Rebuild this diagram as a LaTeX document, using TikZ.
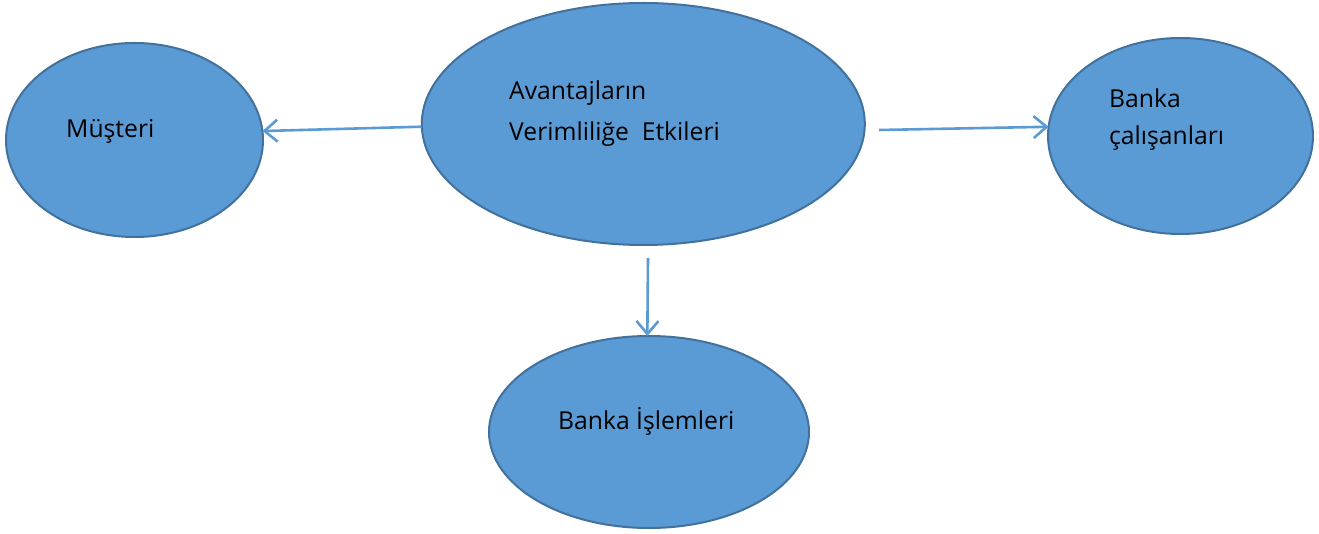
\documentclass[tikz,border=0pt]{standalone}
\usepackage{fontspec}
\setmainfont{Open Sans}
\usetikzlibrary{shapes.geometric,arrows.meta}
\definecolor{ellfill}{HTML}{5B9BD5}
\definecolor{elldraw}{HTML}{41719C}
\definecolor{arrcol}{HTML}{5B9BD5}
\tikzset{
  bubble/.style={ellipse, draw=elldraw, fill=ellfill, line width=2pt, inner sep=0pt, outer sep=0pt},
  lbl/.style={anchor=base west, inner sep=0pt, font=\fontsize{24.7}{28}\selectfont, text=black},
  conn/.style={draw=arrcol, line width=2.6pt, -{Straight Barb[length=13pt,width=22pt,line width=2.6pt]}}
}
\begin{document}
\begin{tikzpicture}[x=1pt,y=1pt]
\useasboundingbox (0,0) rectangle (1319,533);
% ellipses
\node[bubble, minimum width=257pt, minimum height=194pt] (mus) at (134.5,393) {};
\node[bubble, minimum width=443pt, minimum height=242pt] (cen) at (643.3,409) {};
\node[bubble, minimum width=265pt, minimum height=196pt] (cal) at (1180.5,397) {};
\node[bubble, minimum width=320pt, minimum height=192pt] (isl) at (649,101) {};
% texts
\node[lbl] (tmus) at (66,395) {Müşteri};
\node[lbl] (tcenA) at (509,433) {Avantajların};
\node[lbl] (tcenB) at (509,392.3) {Verimliliğe\ \ Etkileri};
\node[lbl] (tcalA) at (1109,425) {Banka};
\node[lbl] (tcalB) at (1109,388) {çalışanları};
\node[lbl] (tisl) at (558,104) {Banka İşlemleri};
% connector tails
\coordinate (s1) at (421.7,406.3);
\coordinate (s2) at (879,403);
\coordinate (s3) at (648,275);
% connectors
\draw[conn] (s1) -- (mus.4);
\draw[conn] (s2) -- (cal.176);
\draw[conn] (s3) -- (isl.91);
\end{tikzpicture}
\end{document}
